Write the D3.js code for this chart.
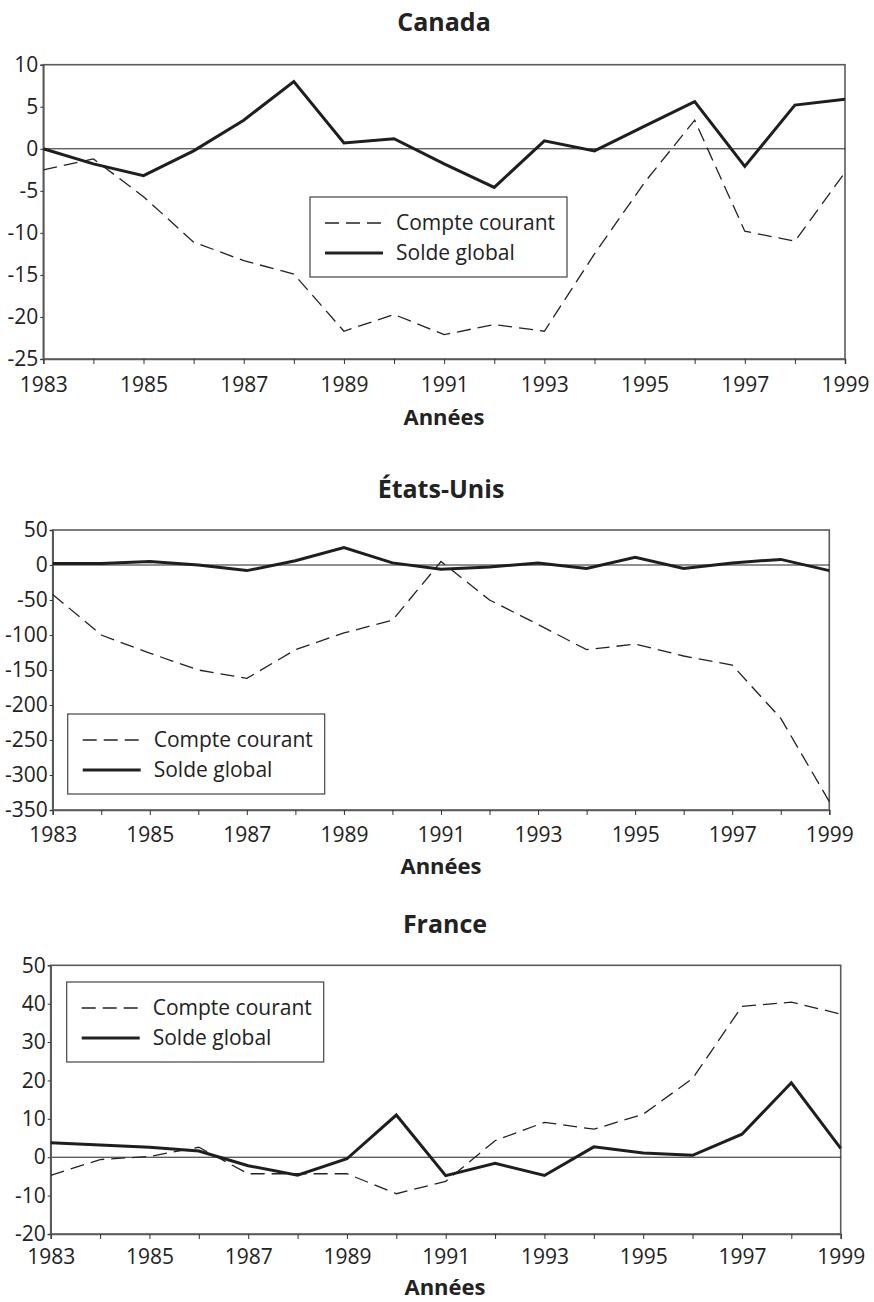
<!DOCTYPE html>
<html>
<head>
<meta charset="utf-8">
<script src="https://cdn.jsdelivr.net/npm/d3@7"></script>
<style>
  body { margin: 0; background: #fff; }
  svg text { font-family: "Open Sans", "Noto Sans", sans-serif; fill: #222; }
</style>
</head>
<body>
<div id="charts"></div>
<script>
// Data (milliards, lecture du graphique)
let years = d3.range(1983, 2000);
let yearLabels = [1983, 1985, 1987, 1989, 1991, 1993, 1995, 1997, 1999];

let canadaCompte = [-2.5, -1.2, -5.7, -11.1, -13.3, -14.9, -21.7, -19.7, -22.1, -20.9, -21.7, -12.5, -4, 3.4, -9.8, -11.0, -2.8];
let canadaSolde = [0, -1.8, -3.2, -0.25, 3.4, 8.0, 0.7, 1.2, -1.8, -4.6, 0.95, -0.25, 2.7, 5.6, -2.1, 5.2, 5.9];
let canadaTicks = [10, 5, 0, -5, -10, -15, -20, -25];

let usCompte = [-42, -100, -126, -150, -162, -121, -97, -79, 5, -50, -85, -121, -113, -130, -143, -219, -338];
let usSolde = [2, 2, 5, 0, -8, 6, 25, 3, -6, -3, 3, -5, 11, -5, 3, 8, -8];
let usTicks = [50, 0, -50, -100, -150, -200, -250, -300, -350];

let franceCompte = [-4.7, -0.6, 0.2, 2.6, -4.3, -4.3, -4.3, -9.5, -6.3, 4.3, 9.1, 7.3, 11.2, 20.5, 39.3, 40.4, 37.3];
let franceSolde = [3.8, 3.2, 2.6, 1.6, -2.2, -4.7, -0.4, 11.0, -4.8, -1.6, -4.75, 2.7, 1.1, 0.5, 6.0, 19.4, 2.3];
let franceTicks = [50, 40, 30, 20, 10, 0, -10, -20];

let seriesNames = ["Compte courant", "Solde global"];

const W = 874, H = 1302;
let svg = d3.select("#charts").append("svg")
    .attr("width", W).attr("height", H);

// -------------------- PANEL -------------------- //
function drawPanel(p) {
    let x = d3.scaleLinear().domain([1983, 1999]).range([p.left, p.right]);
    let y = d3.scaleLinear().domain([p.ticks[p.ticks.length - 1], p.ticks[0]]).range([p.bottom, p.top]);
    let g = svg.append("g");

    // title
    g.append("text")
        .attr("x", p.titleX).attr("y", p.titleY)
        .attr("text-anchor", "middle")
        .style("font-size", "25px").style("font-weight", "bold")
        .text(p.title);

    // frame
    g.append("rect")
        .attr("x", p.left).attr("y", p.top)
        .attr("width", p.right - p.left).attr("height", p.bottom - p.top)
        .attr("fill", "none").attr("stroke", "#5a5a5a").attr("stroke-width", 1.6);

    // zero line
    g.append("line")
        .attr("x1", p.left).attr("x2", p.right)
        .attr("y1", y(0)).attr("y2", y(0))
        .attr("stroke", "#222").attr("stroke-width", 1);

    // y axis (plain hyphen for negatives, as in the original)
    let yAxis = d3.axisLeft(y).tickValues(p.ticks).tickSize(3).tickPadding(2).tickFormat(d => String(d));
    let ya = g.append("g").attr("transform", `translate(${p.left},0)`).call(yAxis);
    ya.select(".domain").attr("stroke", "#5a5a5a").attr("stroke-width", 1.6);
    ya.selectAll("line").attr("stroke", "#333");
    ya.selectAll("text").style("font-size", "21px").attr("fill", "#222")
        .attr("font-family", null);

    // x axis
    let xAxis = d3.axisBottom(x).tickValues(years).tickSize(5).tickFormat(d => yearLabels.includes(d) ? d : "");
    let xa = g.append("g").attr("transform", `translate(0,${p.bottom})`).call(xAxis);
    xa.select(".domain").attr("stroke", "#5a5a5a").attr("stroke-width", 1.6);
    xa.selectAll("line").attr("stroke", "#333");
    xa.selectAll("text").style("font-size", "21px").attr("fill", "#222")
        .attr("font-family", null).attr("dy", null).attr("y", p.yearY - p.bottom);

    // axis label
    g.append("text")
        .attr("x", p.titleX).attr("y", p.anneesY)
        .attr("text-anchor", "middle")
        .style("font-size", "22px").style("font-weight", "bold")
        .text("Années");

    // lines
    let line = d3.line().x((d, i) => x(years[i])).y(d => y(d));
    g.append("path").datum(p.compte)
        .attr("d", line).attr("fill", "none")
        .attr("stroke", "#222").attr("stroke-width", 1.3)
        .attr("stroke-dasharray", "14,7");
    g.append("path").datum(p.solde)
        .attr("d", line).attr("fill", "none")
        .attr("stroke", "#1e1e1e").attr("stroke-width", 3)
        .attr("stroke-linejoin", "miter");

    // legend
    let lg = g.append("g").attr("transform", `translate(${p.legX},${p.legY})`);
    lg.append("rect")
        .attr("width", 257).attr("height", 80)
        .attr("fill", "#fff").attr("stroke", "#444").attr("stroke-width", 1.2);
    seriesNames.forEach((name, i) => {
        let ly = 26 + i * 30;
        lg.append("line")
            .attr("x1", 15).attr("x2", 73).attr("y1", ly).attr("y2", ly)
            .attr("stroke", "#222")
            .attr("stroke-width", i == 0 ? 1.3 : 3)
            .attr("stroke-dasharray", i == 0 ? "14,7" : null);
        lg.append("text")
            .attr("x", 86).attr("y", ly + 7)
            .style("font-size", "21px")
            .text(name);
    });
}

drawPanel({
    title: "Canada", titleX: 444, titleY: 31,
    left: 43.3, right: 845, top: 64.7, bottom: 359,
    ticks: canadaTicks, compte: canadaCompte, solde: canadaSolde,
    yearY: 392, anneesY: 425, legX: 310, legY: 197
});

drawPanel({
    title: "États-Unis", titleX: 441, titleY: 498,
    left: 52.7, right: 829.3, top: 530, bottom: 810,
    ticks: usTicks, compte: usCompte, solde: usSolde,
    yearY: 842, anneesY: 874, legX: 67.7, legY: 714
});

drawPanel({
    title: "France", titleX: 445, titleY: 933,
    left: 50.7, right: 840.7, top: 965.3, bottom: 1234,
    ticks: franceTicks, compte: franceCompte, solde: franceSolde,
    yearY: 1264, anneesY: 1295, legX: 66.7, legY: 982
});
</script>
</body>
</html>
